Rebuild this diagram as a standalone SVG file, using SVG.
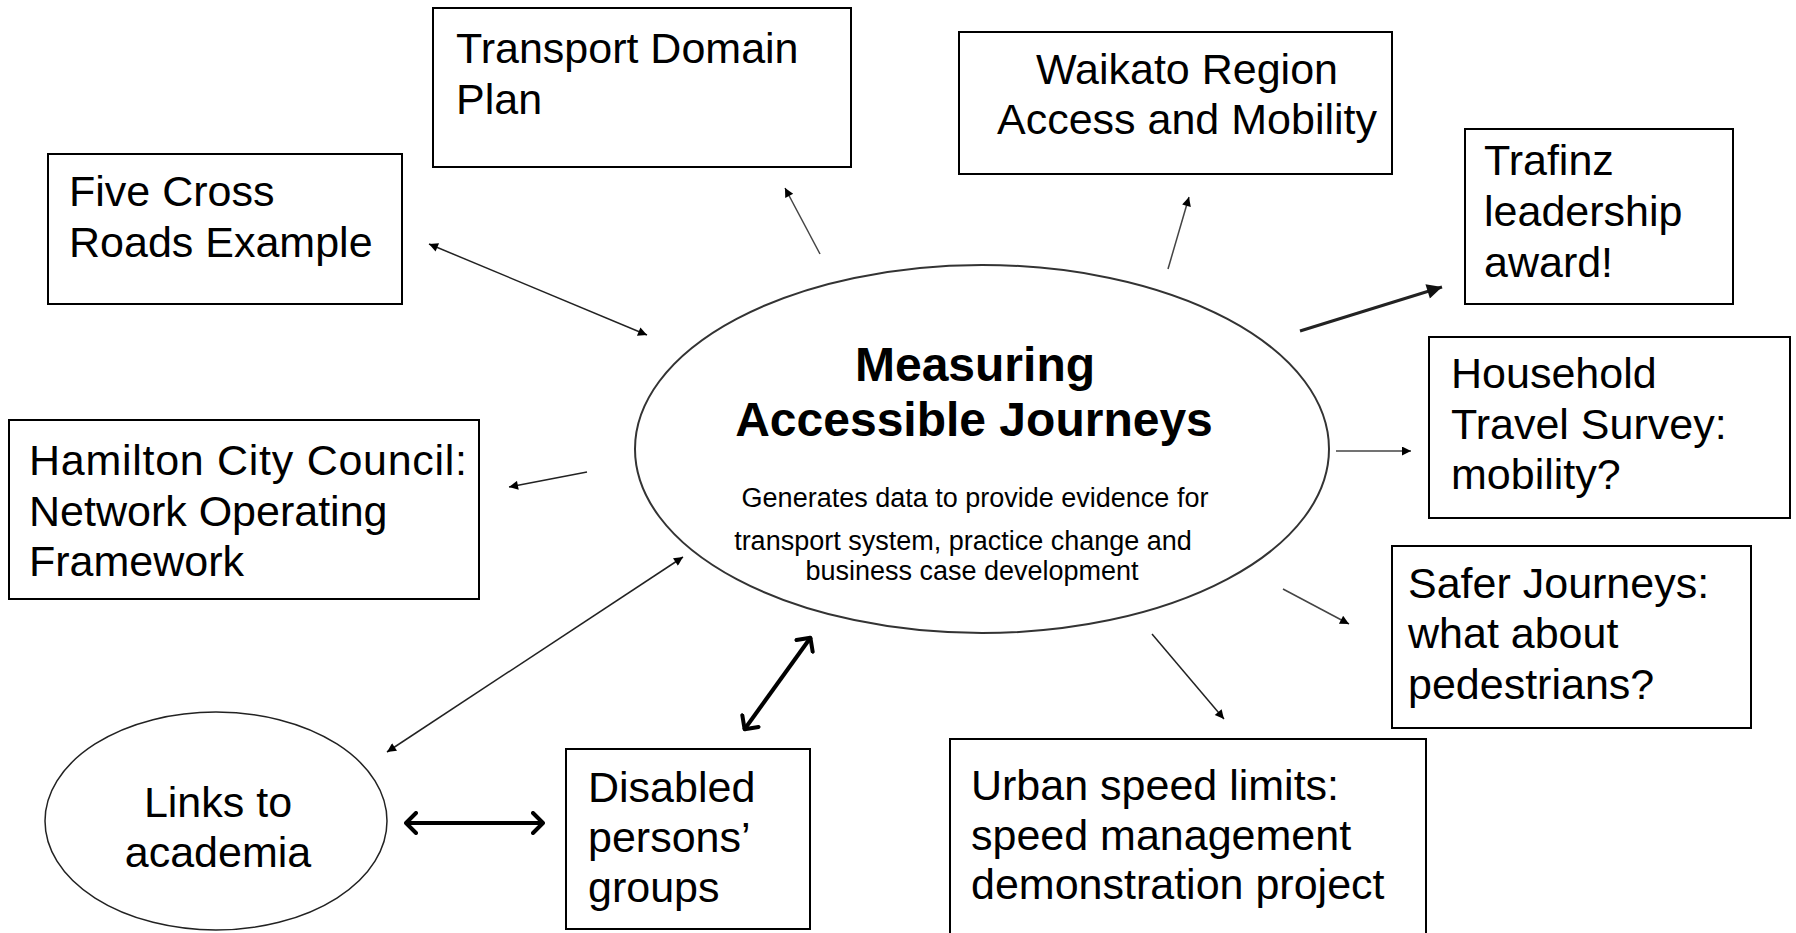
<svg xmlns="http://www.w3.org/2000/svg" width="1796" height="933" viewBox="0 0 1796 933">
<style>
.box{fill:#fff;stroke:#000;stroke-width:2}
.t{font-family:"Liberation Sans",Arial,sans-serif;font-size:43px;fill:#000}
.tc{text-anchor:middle}
.b{font-weight:bold;font-size:48px}
.s{font-size:27px}
.ln{stroke:#222;stroke-width:1.5;fill:none}
.ln2{stroke:#444;stroke-width:1.5;fill:none}
.thk{stroke:#222;stroke-width:3;fill:none}
.thick{stroke:#000;stroke-width:4;fill:none}
</style>
<defs>
<marker id="tri" viewBox="0 0 10 10" refX="10" refY="5" markerWidth="11" markerHeight="9" markerUnits="userSpaceOnUse" orient="auto-start-reverse"><path d="M0,0 L10,5 L0,10 z" fill="#000"/></marker>
<marker id="big" viewBox="0 0 10 10" refX="10" refY="5" markerWidth="20" markerHeight="15" markerUnits="userSpaceOnUse" orient="auto-start-reverse"><path d="M0,0 L10,5 L0,10 z" fill="#111"/></marker>
<marker id="chev" viewBox="0 0 14 24" refX="13" refY="12" markerWidth="14" markerHeight="24" markerUnits="userSpaceOnUse" orient="auto-start-reverse"><path d="M2,2 L12,12 L2,22" fill="none" stroke="#000" stroke-width="4" stroke-linecap="round" stroke-linejoin="round"/></marker>
</defs>
<rect width="1796" height="933" fill="#fff"/>
<g id="connectors">
<line class="ln" x1="429" y1="244" x2="647" y2="335" marker-start="url(#tri)" marker-end="url(#tri)"/>
<line class="ln2" x1="820" y1="254" x2="785" y2="188" marker-end="url(#tri)"/>
<line class="ln2" x1="1168" y1="269" x2="1189" y2="197" marker-end="url(#tri)"/>
<line class="thk" x1="1300" y1="331" x2="1442" y2="287" marker-end="url(#big)"/>
<line class="ln2" x1="1336" y1="451" x2="1411" y2="451" marker-end="url(#tri)"/>
<line class="ln2" x1="1283" y1="589" x2="1349" y2="624" marker-end="url(#tri)"/>
<line class="ln" x1="1152" y1="634" x2="1224" y2="719" marker-end="url(#tri)"/>
<line class="thick" x1="811" y1="637" x2="744" y2="730" marker-start="url(#chev)" marker-end="url(#chev)"/>
<line class="ln" x1="683" y1="557" x2="387" y2="752" marker-start="url(#tri)" marker-end="url(#tri)"/>
<line class="thick" x1="405" y1="823" x2="544" y2="823" marker-start="url(#chev)" marker-end="url(#chev)"/>
<line class="ln" x1="587" y1="472" x2="509" y2="487" marker-end="url(#tri)"/>
</g>
<g id="center">
<ellipse cx="982" cy="449" rx="347" ry="184" fill="#fff" stroke="#333" stroke-width="2"/>
<text class="t b tc" x="975" y="381">Measuring</text>
<text class="t b tc" x="974" y="436">Accessible Journeys</text>
<text class="t s tc" x="975" y="507">Generates data to provide evidence for</text>
<text class="t s tc" x="963" y="550">transport system, practice change and</text>
<text class="t s tc" x="972" y="580">business case development</text>
</g>
<g id="transport">
<rect class="box" x="433" y="8" width="418" height="159"/>
<text class="t" x="456" y="63">Transport Domain</text>
<text class="t" x="456" y="114">Plan</text>
</g>
<g id="waikato">
<rect class="box" x="959" y="32" width="433" height="142"/>
<text class="t tc" x="1187" y="84">Waikato Region</text>
<text class="t tc" x="1187" y="134">Access and Mobility</text>
</g>
<g id="trafinz">
<rect class="box" x="1465" y="129" width="268" height="175"/>
<text class="t" x="1484" y="175">Trafinz</text>
<text class="t" x="1484" y="226">leadership</text>
<text class="t" x="1484" y="277">award!</text>
</g>
<g id="fivecross">
<rect class="box" x="48" y="154" width="354" height="150"/>
<text class="t" x="69" y="206">Five Cross</text>
<text class="t" x="69" y="257">Roads Example</text>
</g>
<g id="household">
<rect class="box" x="1429" y="337" width="361" height="181"/>
<text class="t" x="1451" y="388">Household</text>
<text class="t" x="1451" y="439">Travel Survey:</text>
<text class="t" x="1451" y="489">mobility?</text>
</g>
<g id="hamilton">
<rect class="box" x="9" y="420" width="470" height="179"/>
<text class="t" x="29" y="475" textLength="438" lengthAdjust="spacing">Hamilton City Council:</text>
<text class="t" x="29" y="526">Network Operating</text>
<text class="t" x="29" y="576">Framework</text>
</g>
<g id="safer">
<rect class="box" x="1392" y="546" width="359" height="182"/>
<text class="t" x="1408" y="598">Safer Journeys:</text>
<text class="t" x="1408" y="648">what about</text>
<text class="t" x="1408" y="699">pedestrians?</text>
</g>
<g id="urban">
<rect class="box" x="950" y="739" width="476" height="200"/>
<text class="t" x="971" y="800">Urban speed limits:</text>
<text class="t" x="971" y="850">speed management</text>
<text class="t" x="971" y="899">demonstration project</text>
</g>
<g id="disabled">
<rect class="box" x="566" y="749" width="244" height="180"/>
<text class="t" x="588" y="802">Disabled</text>
<text class="t" x="588" y="852">persons’</text>
<text class="t" x="588" y="902">groups</text>
</g>
<g id="links">
<ellipse cx="216" cy="821" rx="171" ry="109" fill="#fff" stroke="#222" stroke-width="1.5"/>
<text class="t tc" x="218" y="817">Links to</text>
<text class="t tc" x="218" y="867">academia</text>
</g>
</svg>
